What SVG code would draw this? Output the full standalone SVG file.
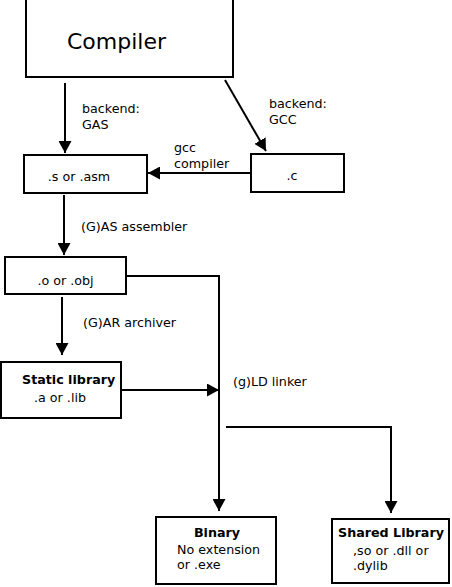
<svg xmlns="http://www.w3.org/2000/svg" width="452" height="587" viewBox="0 0 452 587">
<defs>
<marker id="ah" markerWidth="12" markerHeight="13" refX="12" refY="6.5" orient="auto" markerUnits="userSpaceOnUse">
<path d="M0,0 L12,6.5 L0,13 Z" fill="#000"/>
</marker>
</defs>
<style>
.box{fill:#fff;stroke:#000;stroke-width:2}
.ln{fill:none;stroke:#000;stroke-width:2}
text{font-family:"DejaVu Sans",sans-serif;font-size:12.7px;fill:#000}
.b{font-weight:bold}
</style>
<rect width="452" height="587" fill="#fff"/>
<g id="connectors">
<line class="ln" x1="65" y1="83" x2="65" y2="153" marker-end="url(#ah)"/>
<line class="ln" x1="225" y1="80" x2="266" y2="151" marker-end="url(#ah)"/>
<line class="ln" x1="251" y1="173" x2="148" y2="173" marker-end="url(#ah)"/>
<line class="ln" x1="64" y1="195" x2="64" y2="255" marker-end="url(#ah)"/>
<line class="ln" x1="62" y1="297" x2="62" y2="355" marker-end="url(#ah)"/>
<polyline class="ln" points="126,276 219,276 219,511" marker-end="url(#ah)"/>
<line class="ln" x1="121" y1="390" x2="219" y2="390" marker-end="url(#ah)"/>
<polyline class="ln" points="226,427 391,427 391,513" marker-end="url(#ah)"/>
</g>
<g id="labels">
<text x="82" y="113">backend:</text>
<text x="82" y="129">GAS</text>
<text x="269" y="108">backend:</text>
<text x="269" y="124">GCC</text>
<text x="174" y="152">gcc</text>
<text x="174" y="168">compiler</text>
<text x="81" y="231">(G)AS assembler</text>
<text x="83" y="327">(G)AR archiver</text>
<text x="233" y="386">(g)LD linker</text>
</g>
<g id="compiler">
<rect class="box" x="26" y="-2" width="207" height="79"/>
<text x="67" y="49" style="font-size:22px">Compiler</text>
</g>
<g id="asm">
<rect class="box" x="24" y="155" width="123" height="38"/>
<text x="79" y="181" text-anchor="middle">.s or .asm</text>
</g>
<g id="c">
<rect class="box" x="251" y="154" width="93" height="38"/>
<text x="292" y="180" text-anchor="middle">.c</text>
</g>
<g id="obj">
<rect class="box" x="5" y="257" width="121" height="37"/>
<text x="65.5" y="285" text-anchor="middle">.o or .obj</text>
</g>
<g id="static">
<rect class="box" x="1" y="362" width="120" height="56"/>
<text x="22" y="384" class="b">Static library</text>
<text x="34" y="402">.a or .lib</text>
</g>
<g id="binary">
<rect class="box" x="156" y="517" width="120" height="67"/>
<text x="217" y="537" class="b" text-anchor="middle">Binary</text>
<text x="177" y="554">No extension</text>
<text x="177" y="569">or .exe</text>
</g>
<g id="shared">
<rect class="box" x="332" y="519" width="117" height="64"/>
<text x="338" y="537" class="b">Shared Library</text>
<text x="353" y="555">,so or .dll or</text>
<text x="353" y="570">.dylib</text>
</g>
</svg>
